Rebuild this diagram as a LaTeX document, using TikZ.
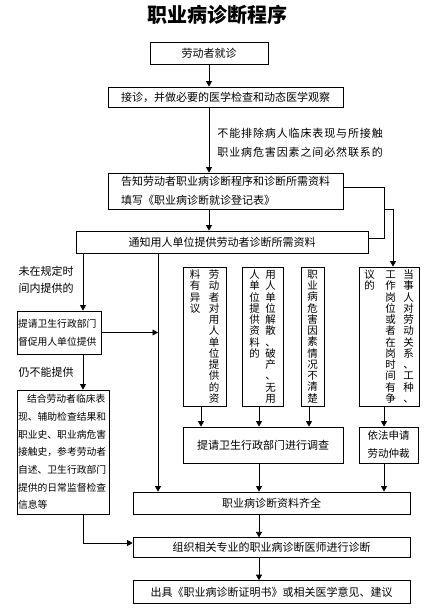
\documentclass[tikz,border=0pt]{standalone}
\usepackage{fontspec}
\setmainfont{Noto Sans CJK SC}
\newfontfamily\spaced{Noto Sans CJK SC}[LetterSpace=8]
\usetikzlibrary{arrows.meta,positioning}
\newcommand\vcol[1]{\vtop{\baselineskip=11.25pt\lineskiplimit=-20pt\vcolnext#1\relax}}
\def\vcolnext#1{\ifx\relax#1\else\hbox to 11pt{\hss#1\hss}\expandafter\vcolnext\fi}
\tikzset{
  box/.style={draw, inner sep=0pt, font=\fontsize{11}{13}\selectfont},
  vb/.style={box, minimum height=139, font=\fontsize{10.5}{11.25}\selectfont},
  small/.style={align=left, inner xsep=1pt, font=\fontsize{9.8}{18}\selectfont},
  lbl/.style={inner sep=0pt, align=left, font=\fontsize{11}{17}\selectfont},
  arr/.style={-{Triangle[length=5.5pt,width=6pt]}},
}
\begin{document}
\begin{tikzpicture}[x=1pt, y=-1pt, line width=0.8pt]
\path[fill=white, use as bounding box] (0,0) rectangle (439,609);
\node[font=\fontsize{20}{24}\selectfont\bfseries] (title) at (217.5,15) {职业病诊断程序};
\node[box, minimum width=118, minimum height=22] (visit) at (209,53) {劳动者就诊};
\node[box, minimum width=235, minimum height=20] (exam) at (225.5,97) {接诊，并做必要的医学检查和动态医学观察};
\node[box, text width=209pt, inner xsep=13pt, minimum height=36, align=left, font=\fontsize{11}{19}\selectfont] (inform) at (225.5,191) {告知劳动者职业病诊断程序和诊断所需资料\\填写《职业病诊断就诊登记表》};
\node[box, minimum width=292, minimum height=22] (notify) at (222,242) {通知用人单位提供劳动者诊断所需资料};
\node[box, small, text width=82pt, minimum height=43] (urge) at (59,332.5) {提请卫生行政部门\\督促用人单位提供};
\node[box, small, text width=90pt, minimum height=124, font=\fontsize{9.8}{17.7}\selectfont] (judge) at (63,452) {\hspace*{9pt}结合劳动者临床表\\现、辅助检查结果和\\职业史、职业病危害\\接触史，参考劳动者\\自述、卫生行政部门\\提供的日常监督检查\\信息等};
\node[vb, minimum width=43] (vb1) at (204.5,336.5) {\vcol{料有异议}\hspace{8pt}\vcol{劳动者对用人单位提供的资}};
\node[vb, minimum width=41] (vb2) at (262.5,336.5) {\vcol{人单位提供资料的}\hspace{5pt}\vcol{用人单位解散、破产、无用}};
\node[vb, minimum width=23] (vb3) at (312.5,336.5) {\vcol{职业病危害因素情况不清楚}};
\node[vb, minimum width=60] (vb4) at (389,336.5) {\vcol{议的}\hspace{10pt}\vcol{工作岗位或者在岗时间有争}\hspace{7pt}\vcol{当事人对劳动关系、工种、}};
\node[box, minimum width=160, minimum height=36] (survey) at (263,445) {提请卫生行政部门进行调查};
\node[box, minimum width=59, minimum height=36, align=center, font=\fontsize{10.5}{18}\selectfont] (arbit) at (388.5,445) {依法申请\\劳动仲裁};
\node[box, minimum width=277, minimum height=22] (ready) at (271.5,503) {职业病诊断资料齐全};
\node[box, minimum width=277, minimum height=20, below=23pt of ready] (diag) {组织相关专业的职业病诊断医师进行诊断};
\node[box, minimum width=277, minimum height=23, below=22pt of diag] (cert) {出具《职业病诊断证明书》或相关医学意见、建议};
\coordinate (xa) at (83,0);
\coordinate (xb) at (158,0);
\coordinate (xm) at (209,0);
\coordinate (x1) at (201,0);
\coordinate (xq) at (259,0);
\coordinate (x3) at (309,0);
\coordinate (xr) at (384,0);
\coordinate (xs) at (393,0);
\coordinate (ya) at (0,187);
\coordinate (yb) at (0,238);
\coordinate (yd) at (0,543);
\draw[arr] (visit.south) -- (visit.south |- exam.north);
\draw[arr] (exam.south -| xm) -- node[right=8pt, pos=0.54, inner sep=0pt, align=left, font=\spaced\fontsize{11}{19}\selectfont] {不能排除病人临床表现与所接触\\职业病危害因素之间必然联系的} (inform.north -| xm);
\draw[arr] (inform.south -| xm) -- (notify.north -| xm);
\draw (inform.east |- ya) -| (xr |- yb) -- (notify.east |- yb);
\draw[arr] (xr |- inform.south) -| (xs |- vb4.north);
\draw[arr] (notify.south -| xa) -- node[left=9pt, pos=0.47, lbl] {未在规定时\\间内提供的} (urge.north -| xa);
\draw[arr] (notify.south -| xb) -- (ready.north -| xb);
\draw[arr] (urge.east) -- (urge.east -| xb);
\draw[arr] (urge.south -| xa) -- node[left=9pt, lbl] {仍不能提供} (judge.north -| xa);
\draw[arr] (judge.south -| xa) |- (diag.west |- yd);
\foreach \b/\c in {vb1/x1,vb2/xq,vb3/x3} \draw[arr] (\b.south -| \c) -- (survey.north -| \c);
\draw[arr] (vb4.south -| xr) -- (arbit.north -| xr);
\foreach \a/\b/\c in {survey/ready/xq,arbit/ready/xr,ready/diag/xq,diag/cert/xq} \draw[arr] (\a.south -| \c) -- (\b.north -| \c);
\end{tikzpicture}
\end{document}
